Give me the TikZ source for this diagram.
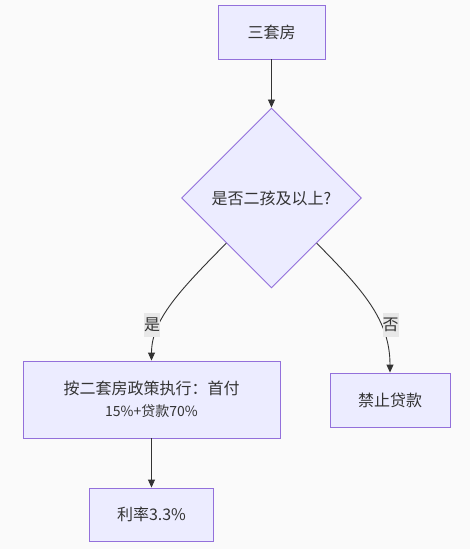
\documentclass[tikz,border=0pt]{standalone}
\usepackage{fontspec}
\setmainfont{Noto Sans CJK SC}
\usetikzlibrary{shapes.geometric,arrows.meta}
\definecolor{nodefill}{HTML}{ECECFF}
\definecolor{nodeline}{HTML}{9370DB}
\definecolor{edgecol}{HTML}{333333}
\definecolor{labelbg}{HTML}{E8E8E8}
\definecolor{bgcol}{HTML}{FAFAFA}
\definecolor{txt}{HTML}{333333}
\tikzset{
  procbox/.style={draw=nodeline, fill=nodefill, line width=0.9pt, inner sep=0pt, text=txt, font=\fontsize{16}{19}\selectfont, align=center},
  decision/.style={shape=diamond, draw=nodeline, fill=nodefill, line width=0.9pt, inner sep=0pt, aspect=1, minimum width=180pt, minimum height=180pt, text=txt, font=\fontsize{16}{19}\selectfont},
  flow/.style={draw=edgecol, line width=0.9pt, -{Triangle[length=8pt,width=7pt]}},
  edgelabel/.style={fill=labelbg, inner sep=0pt, minimum width=16pt, minimum height=24pt, text=txt, font=\fontsize{16}{19}\selectfont}
}
\begin{document}
\begin{tikzpicture}[x=1pt,y=-1pt]
\fill[bgcol] (0,0) rectangle (470,549);
\useasboundingbox (0,0) rectangle (470,549);
\node[procbox, minimum width=107pt, minimum height=54pt] (a) at (271.5,32) {三套房};
\node[decision] (b) at (271.5,198) {是否二孩及以上?};
\node[procbox, minimum width=257pt, minimum height=77pt] (c) at (151.5,399.5) {按二套房政策执行：首付\\[3pt]{\fontsize{14}{17}\selectfont 15\%+贷款70\%}};
\node[procbox, minimum width=120pt, minimum height=54pt] (d) at (390,400) {禁止贷款};
\node[procbox, minimum width=124pt, minimum height=53pt] (e) at (151.5,514.5) {利率3.3\%};
\draw[flow] (a) -- (b);
\draw[flow] (b.south west) .. controls (180,290) and (151.5,320) .. (c.north);
\draw[flow] (b.south east) .. controls (363,290) and (390,320) .. (d.north);
\draw[flow] (c) -- (e);
\node[edgelabel] (l1) at (152,325) {是};
\node[edgelabel] (l2) at (390.5,325) {否};
\end{tikzpicture}
\end{document}
